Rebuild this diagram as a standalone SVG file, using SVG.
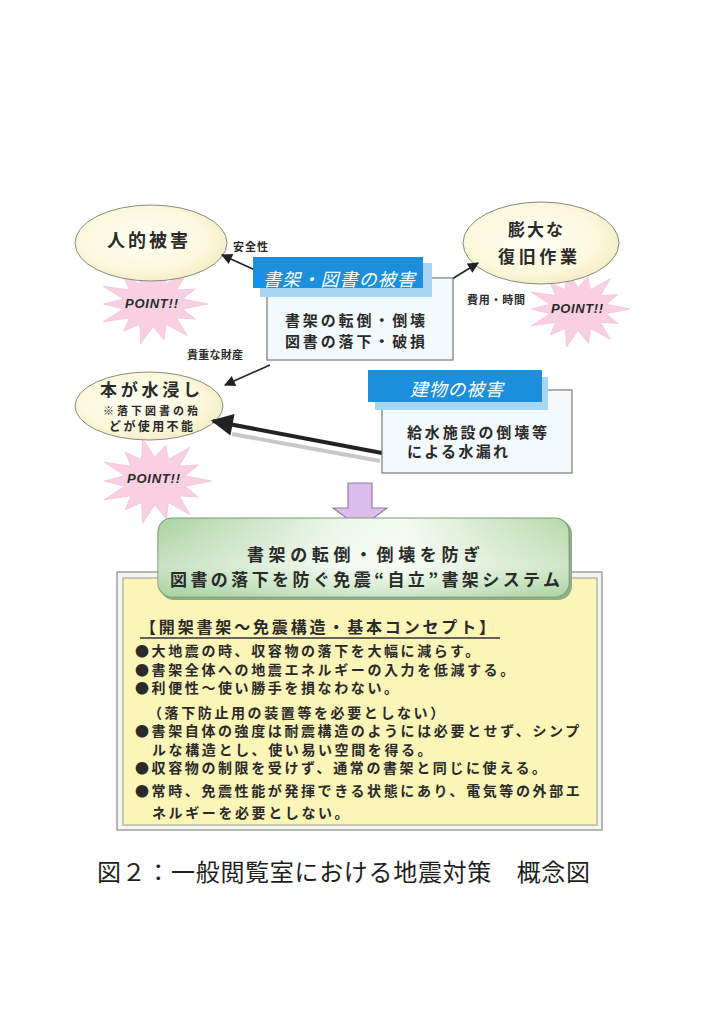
<svg xmlns="http://www.w3.org/2000/svg" width="724" height="1024" viewBox="0 0 724 1024">
<defs>
<style>
.jp{font-family:"Noto Sans CJK JP","Noto Sans CJK SC",sans-serif;fill:#2a2a2a}
.b{font-weight:bold}
.hd{font-family:"Noto Sans CJK JP",sans-serif;font-style:italic;fill:#ffffff;font-size:18px}
.sm{font-size:11px;font-weight:bold}
.pt{font-family:"Liberation Sans",Arial,sans-serif;font-weight:bold;font-style:italic;font-size:13px;fill:#2a2a2a}
.ell{fill:url(#ellG);stroke:#8a8a80;stroke-width:1}
.star{fill:#f9d0e2;stroke:#f5c0d6;stroke-width:0.8}
.wbox{fill:#f3fafd;stroke:#7a7a7a;stroke-width:1.2}
.blue{fill:#1b8fdb}
.lblue{fill:#a6d6f4}
.bl{font-size:14px;font-weight:bold;letter-spacing:2.6px}
.con{stroke:#222;stroke-width:1.6;fill:none}
</style>
<radialGradient id="ellG" cx="0.45" cy="0.45" r="0.6">
<stop offset="0" stop-color="#fffff4"/>
<stop offset="0.7" stop-color="#fbf8dc"/>
<stop offset="1" stop-color="#f1ecc0"/>
</radialGradient>
<linearGradient id="grnG" x1="0" y1="0" x2="1" y2="0">
<stop offset="0" stop-color="#a9d3a0"/>
<stop offset="0.45" stop-color="#eef7ea"/>
<stop offset="0.6" stop-color="#f4faf0"/>
<stop offset="1" stop-color="#b4d9a8"/>
</linearGradient>
<linearGradient id="grnV" x1="0" y1="0" x2="0" y2="1">
<stop offset="0" stop-color="#ffffff" stop-opacity="0"/>
<stop offset="0.6" stop-color="#ffffff" stop-opacity="0.35"/>
<stop offset="1" stop-color="#9fcf98" stop-opacity="0.5"/>
</linearGradient>
<marker id="ahs" viewBox="0 0 10 10" refX="9" refY="5" markerWidth="16" markerHeight="11" orient="auto" markerUnits="userSpaceOnUse">
<path d="M0,0 L10,5 L0,10 z" fill="#222"/>
</marker>
<marker id="ahBig" viewBox="0 0 10 10" refX="9" refY="5" markerWidth="34" markerHeight="22" orient="auto" markerUnits="userSpaceOnUse">
<path d="M0,0 L10,5 L0,10 z" fill="#222"/>
</marker>
<path id="starShape" d="M58,0 L31.1,5.1 L44.4,15.5 L24.9,14.4 L36.1,32.8 L13.8,20.8 L11.6,36.9 L0,23.1 L-12.9,41 L-13.8,20.8 L-30.7,27.9 L-24.9,14.4 L-52.3,18.2 L-31.1,5.1 L-52.2,0 L-31.1,-5.1 L-52.3,-18.2 L-24.9,-14.4 L-30.7,-27.9 L-13.8,-20.8 L-12.9,-41 L0,-23.1 L11,-34.8 L13.8,-20.8 L36.1,-32.8 L24.9,-14.4 L44.4,-15.5 L31.1,-5.1 z"/>
</defs>
<rect width="724" height="1024" fill="#ffffff"/>

<!-- stars -->
<g id="star1"><use href="#starShape" class="star" transform="translate(153,304) scale(0.95,0.97)"/><text class="pt" x="125" y="308" textLength="53">POINT!!</text></g>
<g id="star2"><use href="#starShape" class="star" transform="translate(578,309) scale(0.9,0.93)"/><text class="pt" x="551" y="313" textLength="52">POINT!!</text></g>
<g id="star3"><use href="#starShape" class="star" transform="translate(155,481) scale(0.97,1.03)"/><text class="pt" x="127" y="483" textLength="53">POINT!!</text></g>

<!-- ellipses -->
<g id="jinteki">
<ellipse class="ell" cx="151" cy="243" rx="76" ry="38"/>
<text class="jp b" x="107" y="247" font-size="18" textLength="81">人的被害</text>
</g>
<g id="boudai">
<ellipse class="ell" cx="541" cy="243" rx="78" ry="41"/>
<text class="jp b" x="508" y="236" font-size="17" textLength="55">膨大な</text>
<text class="jp b" x="498" y="263" font-size="17" textLength="79">復旧作業</text>
</g>
<g id="mizubitashi">
<ellipse class="ell" cx="149" cy="406" rx="74" ry="34"/>
<text class="jp b" x="100" y="396" font-size="17" textLength="100">本が水浸し</text>
<text class="jp b" x="103" y="415" font-size="11" textLength="95">※落下図書の殆</text>
<text class="jp b" x="109" y="431" font-size="12" textLength="84">どが使用不能</text>
</g>

<!-- connectors -->
<g id="connectors">
<line class="con" x1="255" y1="270" x2="222" y2="255" marker-end="url(#ahs)"/>
<line class="con" x1="452" y1="279" x2="478" y2="263" marker-end="url(#ahs)"/>
<line class="con" x1="270" y1="365" x2="225" y2="385" marker-end="url(#ahs)"/>
<line x1="380" y1="461" x2="232" y2="434" stroke="#c8c8c8" stroke-width="4"/>
<line x1="382" y1="453" x2="213" y2="421" stroke="#222" stroke-width="4" marker-end="url(#ahBig)"/>
<polygon points="348,483 372,483 372,508 387,508 360,528 333,508 348,508" fill="#dcbdec" stroke="#8f7fa3" stroke-width="1.2"/>
</g>
<g id="labels">
<text class="jp sm" x="233" y="251" textLength="35">安全性</text>
<text class="jp sm" x="467" y="304" textLength="58">費用・時間</text>
<text class="jp sm" x="187" y="359" textLength="56">貴重な財産</text>
</g>

<!-- 書架・図書の被害 -->
<g id="shoka">
<rect class="wbox" x="267" y="278" width="186" height="82"/>
<rect class="lblue" x="260" y="263" width="172" height="34"/>
<rect class="blue" x="253" y="257" width="170" height="31"/>
<text class="hd" x="263" y="286" textLength="152">書架・図書の被害</text>
<text class="jp b" x="285" y="326" font-size="15" textLength="140">書架の転倒・倒壊</text>
<text class="jp b" x="285" y="347" font-size="15" textLength="140">図書の落下・破損</text>
</g>

<!-- 建物の被害 -->
<g id="tatemono">
<rect class="wbox" x="382" y="390" width="190" height="83"/>
<rect class="lblue" x="375" y="377" width="173" height="33"/>
<rect class="blue" x="368" y="370" width="174" height="32"/>
<text class="hd" x="410" y="396" textLength="93">建物の被害</text>
<text class="jp b" x="407" y="438" font-size="15" textLength="140">給水施設の倒壊等</text>
<text class="jp b" x="407" y="457" font-size="15" textLength="101">による水漏れ</text>
</g>

<!-- concept box -->
<g id="concept">
<rect x="117" y="572" width="485" height="258" fill="#f4f4f0" stroke="#8a8a8a" stroke-width="1.2"/>
<rect x="123" y="578" width="474" height="247" fill="#fcf5b8" stroke="#9a9a90" stroke-width="1"/>
<text class="jp b" x="140" y="633" font-size="16" textLength="355">【開架書架～免震構造・基本コンセプト】</text>
<line x1="140" y1="638" x2="500" y2="638" stroke="#333" stroke-width="1.4"/>
<text class="jp bl" x="135" y="656">●大地震の時、収容物の落下を大幅に減らす。</text>
<text class="jp bl" x="135" y="675">●書架全体への地震エネルギーの入力を低減する。</text>
<text class="jp bl" x="135" y="693">●利便性～使い勝手を損なわない。</text>
<text class="jp bl" x="148" y="718">（落下防止用の装置等を必要としない）</text>
<text class="jp bl" x="135" y="736">●書架自体の強度は耐震構造のようには必要とせず、シンプ</text>
<text class="jp bl" x="152" y="755">ルな構造とし、使い易い空間を得る。</text>
<text class="jp bl" x="135" y="773">●収容物の制限を受けず、通常の書架と同じに使える。</text>
<text class="jp bl" x="135" y="796">●常時、免震性能が発揮できる状態にあり、電気等の外部エ</text>
<text class="jp bl" x="152" y="818">ネルギーを必要としない。</text>
</g>

<!-- green system box -->
<g id="system">
<rect x="160" y="520" width="412" height="80" rx="14" fill="#8fae8a"/>
<rect x="158" y="518" width="411" height="79" rx="14" fill="url(#grnG)" stroke="#7f957c" stroke-width="1.2"/>
<rect x="158" y="518" width="411" height="79" rx="14" fill="url(#grnV)"/>
<text class="jp b" x="247" y="561" font-size="17" textLength="233">書架の転倒・倒壊を防ぎ</text>
<text class="jp b" x="170" y="586" font-size="17" textLength="390">図書の落下を防ぐ免震“自立”書架システム</text>
</g>

<!-- caption -->
<g id="caption">
<text class="jp" x="97" y="881" font-size="24" textLength="493" style="fill:#1e1e1e">図２：一般閲覧室における地震対策　概念図</text>
</g>
</svg>
